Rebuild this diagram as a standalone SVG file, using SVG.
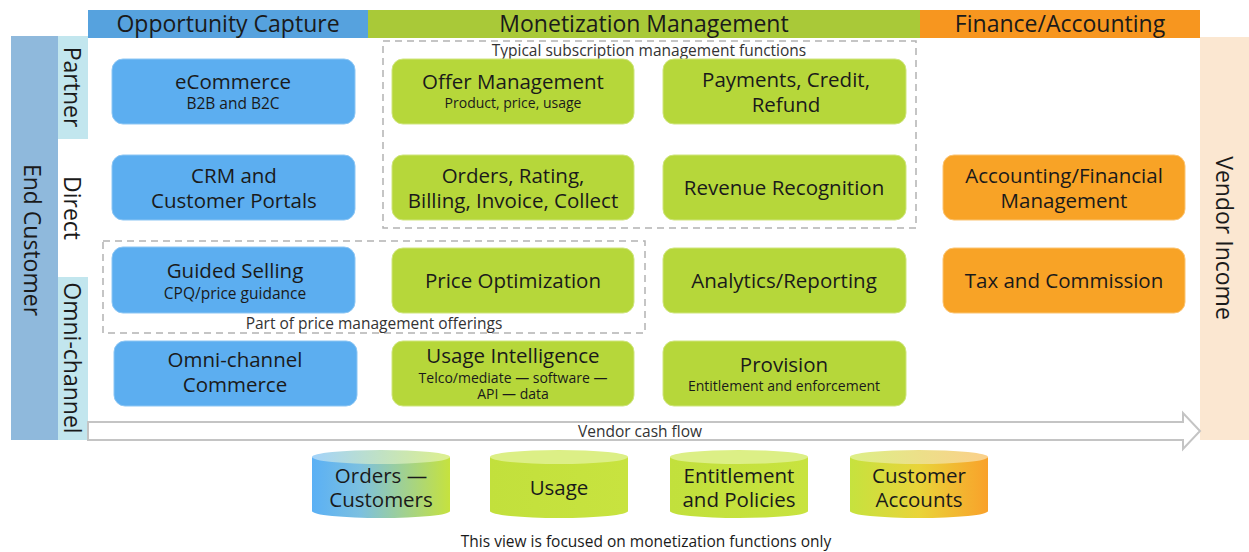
<svg xmlns="http://www.w3.org/2000/svg" width="1249" height="552" viewBox="0 0 1249 552">
<defs>
<style>
text{font-family:"Open Sans","Noto Sans","DejaVu Sans",sans-serif;fill:#1a1a1a}
.hd{font-size:23px;text-anchor:middle}
.vt{font-size:23px;text-anchor:middle;dominant-baseline:central}
.t{font-size:20.5px;text-anchor:middle}
.s{font-size:14px;text-anchor:middle}
.s2{font-size:15.5px;text-anchor:middle}
.lbl{font-size:15.5px;text-anchor:middle;fill:#333}
.blue{fill:#5caef0;stroke:#8cc6f4;stroke-width:1}
.green{fill:#b6d73a;stroke:#cfe57d;stroke-width:1}
.orange{fill:#f8a326;stroke:#fbc473;stroke-width:1}
.dash{fill:none;stroke:#b3b3b3;stroke-width:1.5;stroke-dasharray:7 5}
.ctop{stroke:none}
</style>
<linearGradient id="gBG" x1="0" y1="0" x2="1" y2="0">
<stop offset="0" stop-color="#5ab0f5"/><stop offset="0.35" stop-color="#7cc0e0"/><stop offset="1" stop-color="#c6e23e"/>
</linearGradient>
<linearGradient id="gBGt" x1="0" y1="0" x2="1" y2="0">
<stop offset="0" stop-color="#a3d3fa"/><stop offset="1" stop-color="#def08e"/>
</linearGradient>
<linearGradient id="gG" x1="0" y1="0" x2="1" y2="0">
<stop offset="0" stop-color="#c2e03c"/><stop offset="1" stop-color="#c8e33f"/>
</linearGradient>
<linearGradient id="gGO" x1="0" y1="0" x2="1" y2="0">
<stop offset="0" stop-color="#c6e23e"/><stop offset="0.5" stop-color="#e9d43a"/><stop offset="1" stop-color="#f9a12a"/>
</linearGradient>
<linearGradient id="gGOt" x1="0" y1="0" x2="1" y2="0">
<stop offset="0" stop-color="#ddef88"/><stop offset="1" stop-color="#fbd08a"/>
</linearGradient>
</defs>
<rect width="1249" height="552" fill="#ffffff"/>

<g id="headers">
<rect x="88" y="10" width="280" height="28" fill="#56a2de"/>
<text class="hd" x="228" y="32">Opportunity Capture</text>
<rect x="368" y="10" width="552" height="28" fill="#a9c938"/>
<text class="hd" x="644" y="32">Monetization Management</text>
<rect x="920" y="10" width="280" height="28" fill="#f7961f"/>
<text class="hd" x="1060" y="32">Finance/Accounting</text>
</g>

<g id="lanes">
<rect x="11" y="36" width="47" height="404" fill="#8fb9dc"/>
<text class="vt" transform="translate(33,240) rotate(90)">End Customer</text>
<rect x="58" y="36" width="30" height="103" fill="#c2e6ee"/>
<text class="vt" transform="translate(73,87) rotate(90)">Partner</text>
<text class="vt" transform="translate(73,208) rotate(90)">Direct</text>
<rect x="58" y="277" width="30" height="163" fill="#c2e6ee"/>
<text class="vt" transform="translate(73,358) rotate(90)">Omni-channel</text>
<rect x="1200" y="37" width="49" height="403" fill="#fbe7d1"/>
<text class="vt" transform="translate(1225,238) rotate(90)">Vendor Income</text>
</g>

<g id="groups">
<rect class="dash" x="383" y="41" width="533" height="187"/>
<text class="lbl" x="649" y="56">Typical subscription management functions</text>
<rect class="dash" x="103" y="241" width="542" height="92"/>
<text class="lbl" x="374" y="329">Part of price management offerings</text>
</g>

<g id="connectors">
<path d="M88,422 H1183 V413 L1200,431 L1183,449 V440 H88 Z" fill="#ffffff" stroke="#c4c4c4" stroke-width="2"/>
<text class="lbl" x="640" y="437">Vendor cash flow</text>
</g>

<g id="n-ecommerce"><rect class="blue" x="112" y="59" width="243" height="65" rx="11"/>
<text class="t" x="233" y="89">eCommerce</text><text class="s2" x="233" y="109">B2B and B2C</text></g>
<g id="n-crm"><rect class="blue" x="112" y="155" width="243" height="65" rx="11"/>
<text class="t" x="234" y="183">CRM and<tspan x="234" dy="25">Customer Portals</tspan></text></g>
<g id="n-guided"><rect class="blue" x="112" y="247" width="243" height="66" rx="11"/>
<text class="t" x="235" y="278">Guided Selling</text><text class="s2" x="235" y="299">CPQ/price guidance</text></g>
<g id="n-omni"><rect class="blue" x="114" y="341" width="243" height="65" rx="11"/>
<text class="t" x="235" y="367">Omni-channel<tspan x="235" dy="25">Commerce</tspan></text></g>

<g id="n-offer"><rect class="green" x="392" y="59" width="242" height="65" rx="11"/>
<text class="t" x="513" y="89">Offer Management</text><text class="s" x="513" y="108">Product, price, usage</text></g>
<g id="n-orders"><rect class="green" x="392" y="155" width="242" height="65" rx="11"/>
<text class="t" x="513" y="183">Orders, Rating,<tspan x="513" dy="25">Billing, Invoice, Collect</tspan></text></g>
<g id="n-priceopt"><rect class="green" x="392" y="248" width="242" height="65" rx="11"/>
<text class="t" x="513" y="288">Price Optimization</text></g>
<g id="n-usage"><rect class="green" x="392" y="341" width="242" height="65" rx="11"/>
<text class="t" x="513" y="363">Usage Intelligence</text><text class="s" x="513" y="383">Telco/mediate — software —<tspan x="513" dy="16">API — data</tspan></text></g>

<g id="n-payments"><rect class="green" x="663" y="59" width="243" height="65" rx="11"/>
<text class="t" x="786" y="87">Payments, Credit,<tspan x="786" dy="25">Refund</tspan></text></g>
<g id="n-revenue"><rect class="green" x="663" y="155" width="243" height="65" rx="11"/>
<text class="t" x="784" y="195">Revenue Recognition</text></g>
<g id="n-analytics"><rect class="green" x="663" y="248" width="243" height="65" rx="11"/>
<text class="t" x="784" y="288">Analytics/Reporting</text></g>
<g id="n-provision"><rect class="green" x="663" y="341" width="243" height="65" rx="11"/>
<text class="t" x="784" y="372">Provision</text><text class="s" x="784" y="391">Entitlement and enforcement</text></g>

<g id="n-accounting"><rect class="orange" x="943" y="155" width="242" height="65" rx="11"/>
<text class="t" x="1064" y="183">Accounting/Financial<tspan x="1064" dy="25">Management</tspan></text></g>
<g id="n-tax"><rect class="orange" x="943" y="248" width="242" height="65" rx="11"/>
<text class="t" x="1064" y="288">Tax and Commission</text></g>

<g id="db-orders">
<path d="M312,457 V511 A69,7 0 0 0 450,511 V457 Z" fill="url(#gBG)"/>
<ellipse class="ctop" cx="381" cy="457" rx="69" ry="7" fill="url(#gBGt)"/>
<text class="t" x="381" y="483">Orders —<tspan x="381" dy="24">Customers</tspan></text>
</g>
<g id="db-usage">
<path d="M490,457 V511 A69,7 0 0 0 628,511 V457 Z" fill="url(#gG)"/>
<ellipse class="ctop" cx="559" cy="457" rx="69" ry="7" fill="#dcef86"/>
<text class="t" x="559" y="495">Usage</text>
</g>
<g id="db-entitlement">
<path d="M670,457 V511 A69,7 0 0 0 808,511 V457 Z" fill="url(#gG)"/>
<ellipse class="ctop" cx="739" cy="457" rx="69" ry="7" fill="#dcef86"/>
<text class="t" x="739" y="483">Entitlement<tspan x="739" dy="24">and Policies</tspan></text>
</g>
<g id="db-accounts">
<path d="M850,457 V511 A69,7 0 0 0 988,511 V457 Z" fill="url(#gGO)"/>
<ellipse class="ctop" cx="919" cy="457" rx="69" ry="7" fill="url(#gGOt)"/>
<text class="t" x="919" y="483">Customer<tspan x="919" dy="24">Accounts</tspan></text>
</g>

<text x="646" y="547" style="font-size:15.5px;text-anchor:middle">This view is focused on monetization functions only</text>
</svg>
